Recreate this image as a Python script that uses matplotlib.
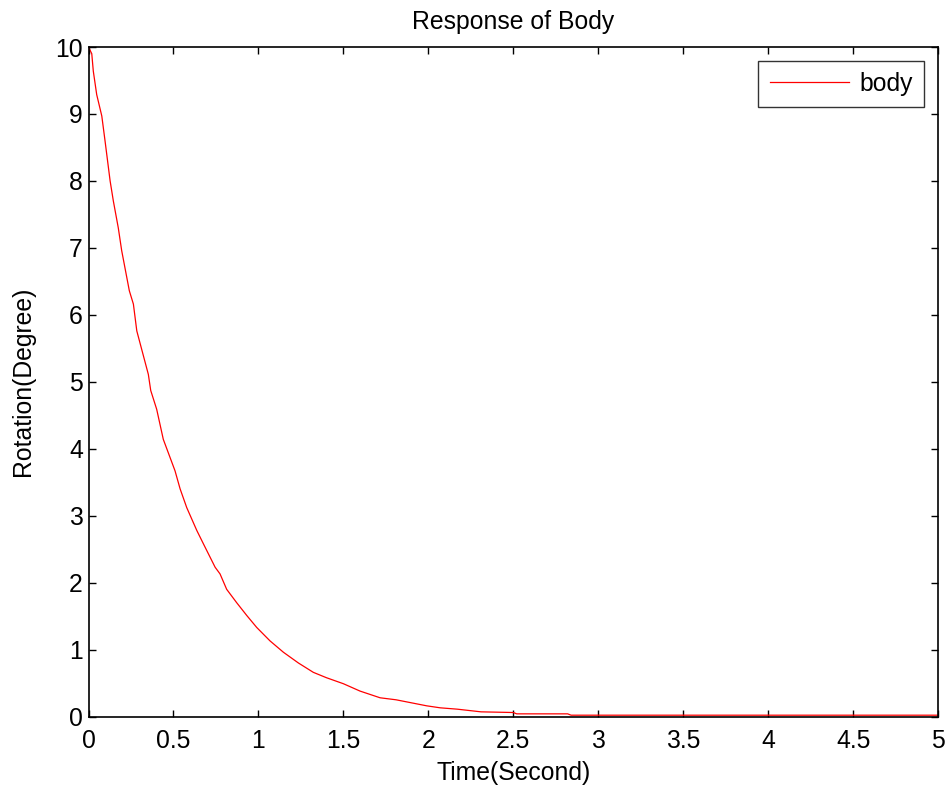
import matplotlib
matplotlib.use("Agg")
import matplotlib.pyplot as plt

plt.rcParams['font.family'] = ['Liberation Sans', 'DejaVu Sans']

time_s = [0.0, 0.019, 0.028, 0.048, 0.078, 0.097, 0.127, 0.146, 0.175, 0.195,
          0.24, 0.264, 0.284, 0.352, 0.366, 0.401, 0.44, 0.509, 0.539, 0.578,
          0.637, 0.676, 0.745, 0.774, 0.813, 0.872, 0.931, 0.99, 1.068, 1.147,
          1.235, 1.323, 1.40, 1.50, 1.598, 1.716, 1.81, 1.89, 1.99, 2.07, 2.17,
          2.31, 2.5, 2.52, 2.82, 2.84, 3.5, 4.0, 4.5, 5.0]
rotation_deg = [10.0, 9.9, 9.64, 9.29, 8.97, 8.6, 8.0, 7.7, 7.3, 6.96,
                6.36, 6.16, 5.76, 5.11, 4.87, 4.59, 4.14, 3.67, 3.4, 3.12,
                2.78, 2.58, 2.23, 2.13, 1.90, 1.70, 1.51, 1.33, 1.13, 0.96,
                0.80, 0.66, 0.58, 0.49, 0.38, 0.28, 0.25, 0.21, 0.16, 0.13, 0.11,
                0.07, 0.06, 0.04, 0.04, 0.02, 0.02, 0.02, 0.02, 0.02]

x_ticks = [0, 0.5, 1, 1.5, 2, 2.5, 3, 3.5, 4, 4.5, 5]
x_tick_labels = ['0', '0.5', '1', '1.5', '2', '2.5', '3', '3.5', '4', '4.5', '5']
y_ticks = [0, 1, 2, 3, 4, 5, 6, 7, 8, 9, 10]

FS = 17.8

fig = plt.figure(figsize=(9.48, 7.88), dpi=100)
ax = fig.add_axes([0.0934, 0.0907, 0.8961, 0.8496])

ax.plot(time_s, rotation_deg, color='#ff0000', linewidth=0.9, label='body')

ax.set_xlim(0, 5)
ax.set_ylim(0, 10)
ax.set_xticks(x_ticks)
ax.set_xticklabels(x_tick_labels)
ax.set_yticks(y_ticks)
ax.tick_params(direction='in', length=5, width=1.0, labelsize=FS,
               top=True, right=True, colors='black')
ax.tick_params(axis='x', pad=9)
ax.tick_params(axis='y', pad=4)
for s in ax.spines.values():
    s.set_linewidth(1.2)

ax.set_title('Response of Body', fontsize=FS, pad=13)
ax.set_xlabel('Time(Second)', fontsize=FS, labelpad=6)
ax.set_ylabel('Rotation(Degree)', fontsize=FS, labelpad=15)

leg = ax.legend(loc='upper right', fontsize=FS, frameon=True, fancybox=False,
                edgecolor='black', borderaxespad=0.55, handlelength=3.2,
                handletextpad=0.45, borderpad=0.45)
leg.get_frame().set_linewidth(1.0)

fig.savefig('out.png', dpi=100, facecolor='white')
